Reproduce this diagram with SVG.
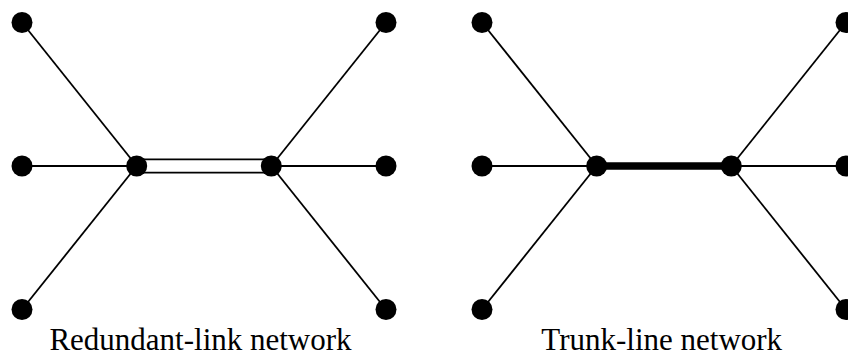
<svg xmlns="http://www.w3.org/2000/svg" width="848" height="356" viewBox="0 0 848 356">
<style>
.bg{fill:#fff}
.ln{stroke:#000;stroke-width:1.8;fill:none}
.trunk{stroke:#000;stroke-width:7.5;fill:none}
.nd{fill:#000}
.lbl{font-family:"Liberation Serif","Times New Roman",serif;font-size:31px;fill:#000;text-anchor:middle}
</style>
<rect class="bg" x="0" y="0" width="848" height="356"/>
<g id="connectors">
<line class="ln" x1="22" y1="22.5" x2="136.7" y2="166"/>
<line class="ln" x1="22" y1="166" x2="136.7" y2="166"/>
<line class="ln" x1="22" y1="309.5" x2="136.7" y2="166"/>
<line class="ln" x1="386" y1="22.5" x2="271.3" y2="166"/>
<line class="ln" x1="386" y1="166" x2="271.3" y2="166"/>
<line class="ln" x1="386" y1="309.5" x2="271.3" y2="166"/>
<line class="ln" x1="136.7" y1="159.3" x2="271.3" y2="159.3"/>
<line class="ln" x1="136.7" y1="172.7" x2="271.3" y2="172.7"/>
<line class="ln" x1="482" y1="22.5" x2="596.7" y2="166"/>
<line class="ln" x1="482" y1="166" x2="596.7" y2="166"/>
<line class="ln" x1="482" y1="309.5" x2="596.7" y2="166"/>
<line class="ln" x1="846" y1="22.5" x2="731.3" y2="166"/>
<line class="ln" x1="846" y1="166" x2="731.3" y2="166"/>
<line class="ln" x1="846" y1="309.5" x2="731.3" y2="166"/>
<line class="trunk" x1="596.7" y1="166" x2="731.3" y2="166"/>
</g>
<g id="left-network">
<g id="L-tl"><circle class="nd" cx="22" cy="22.5" r="10.5"/></g>
<g id="L-ml"><circle class="nd" cx="22" cy="166" r="10.5"/></g>
<g id="L-bl"><circle class="nd" cx="22" cy="309.5" r="10.5"/></g>
<g id="L-tr"><circle class="nd" cx="386" cy="22.5" r="10.5"/></g>
<g id="L-mr"><circle class="nd" cx="386" cy="166" r="10.5"/></g>
<g id="L-br"><circle class="nd" cx="386" cy="309.5" r="10.5"/></g>
<g id="L-hub1"><circle class="nd" cx="136.7" cy="166" r="10.5"/></g>
<g id="L-hub2"><circle class="nd" cx="271.3" cy="166" r="10.5"/></g>
<text class="lbl" x="200.5" y="349.5">Redundant-link network</text>
</g>
<g id="right-network">
<g id="R-tl"><circle class="nd" cx="482" cy="22.5" r="10.5"/></g>
<g id="R-ml"><circle class="nd" cx="482" cy="166" r="10.5"/></g>
<g id="R-bl"><circle class="nd" cx="482" cy="309.5" r="10.5"/></g>
<g id="R-tr"><circle class="nd" cx="846" cy="22.5" r="10.5"/></g>
<g id="R-mr"><circle class="nd" cx="846" cy="166" r="10.5"/></g>
<g id="R-br"><circle class="nd" cx="846" cy="309.5" r="10.5"/></g>
<g id="R-hub1"><circle class="nd" cx="596.7" cy="166" r="10.5"/></g>
<g id="R-hub2"><circle class="nd" cx="731.3" cy="166" r="10.5"/></g>
<text class="lbl" x="661.7" y="349.5">Trunk-line network</text>
</g>
</svg>
